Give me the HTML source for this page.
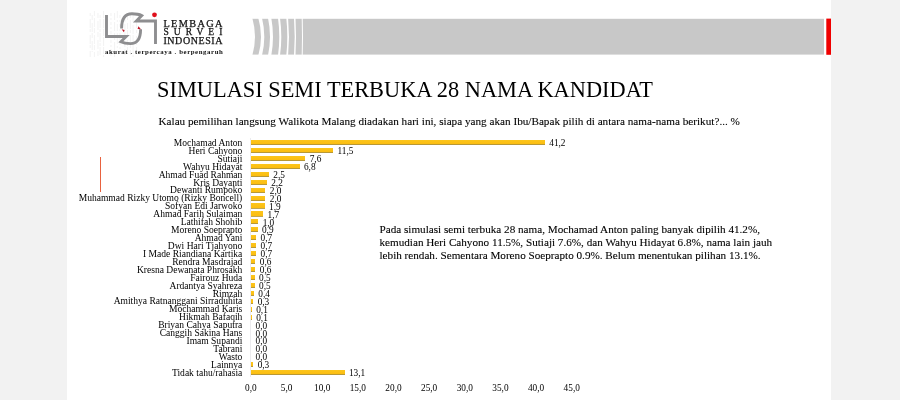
<!DOCTYPE html>
<html><head><meta charset="utf-8"><title>Simulasi Semi Terbuka 28 Nama Kandidat</title>
<style>
html,body{margin:0;padding:0}
body{width:900px;height:400px;overflow:hidden;background:#f2f2f2;font-family:"Liberation Serif",serif;color:#000;position:relative}
#page{position:absolute;left:67px;top:0;width:764px;height:400px;background:#fff}
.abs{position:absolute}
#title{position:absolute;left:157.1px;top:76.5px;font-size:22.37px;line-height:26px;white-space:nowrap}
#sub{-webkit-text-stroke:0.1px #000;position:absolute;left:158.5px;top:114.6px;font-size:11.19px;line-height:13px;white-space:nowrap}
#para{-webkit-text-stroke:0.1px #000;position:absolute;left:379.5px;top:223.2px;font-size:11.16px;line-height:13.05px;white-space:nowrap}
.nm{position:absolute;right:657.7px;font-size:9.54px;line-height:0;white-space:nowrap;height:0}
.vl{position:absolute;font-size:9.3px;line-height:0;white-space:nowrap;height:0}
.ax{position:absolute;top:388.0px;width:40px;text-align:center;font-size:9.3px;line-height:0;height:0;white-space:nowrap}
.bar{position:absolute;left:251.2px;height:5.1px;background:linear-gradient(to bottom,#fcc51c 0%,#fbbd10 82%,#b89836 90%,#eee9dc 100%)}
#axisline{position:absolute;left:250.2px;top:138px;width:1px;height:239px;background:#ebebee}
#redline{position:absolute;left:99.9px;top:157px;width:1.3px;height:34.5px;background:#e8623f}
</style></head><body>
<div id="page"></div>
<svg class="abs" style="left:0;top:0" width="900" height="70" viewBox="0 0 900 70">
<rect x="252" y="18.8" width="572" height="35.8" fill="#c8c8c8"/>
<path d="M251 18 L252.3 18 Q257.7 36.7 252.3 55.6 L251 55.6 Z" fill="#fff"/>
<path d="M258.3 18 Q263.7 36.7 258.3 55.6 L262 55.6 Q266.6 36.7 262 18 Z" fill="#fff"/>
<path d="M268 18 Q272 36.7 268 55.6 L271.3 55.6 Q274.7 36.7 271.3 18 Z" fill="#fff"/>
<path d="M278 18 Q280.6 36.7 278 55.6 L280 55.6 Q282.6 36.7 280 18 Z" fill="#fff"/>
<path d="M286.3 18 Q288.3 36.7 286.3 55.6 L288.1 55.6 Q289.9 36.7 288.1 18 Z" fill="#fff"/>
<path d="M294 18 Q295.4 36.7 294 55.6 L295.5 55.6 Q296.5 36.7 295.5 18 Z" fill="#fff"/>
<path d="M301.7 18 Q302.3 36.7 301.7 55.6 L302.7 55.6 Q303.3 36.7 302.7 18 Z" fill="#fff"/>
<rect x="826.3" y="18.6" width="4.7" height="36.2" fill="#f00000"/>
<!-- logo -->
<g stroke="#e9e9e9" stroke-width="0.6" fill="none">
<path d="M90.2 13 L90.2 57" stroke-dasharray="3 3 9 1"/>
<path d="M92.2 15 L92.2 52" stroke-dasharray="5 3 9 1"/>
<path d="M94.4 11 L94.4 57" stroke-dasharray="5 2 9 1"/>
<path d="M98 13 L98 57" stroke-dasharray="5 3 9 2"/>
<path d="M100.1 15 L100.1 55" stroke-dasharray="3 1 9 1"/>
<path d="M103.6 11 L103.6 57" stroke-dasharray="7 1 9 1"/>
<path d="M111 13 L111 57" stroke-dasharray="3 2 2 2"/>
<path d="M114.6 13 L114.6 57" stroke-dasharray="7 2 9 2"/>
<path d="M117.3 11 L117.3 52" stroke-dasharray="7 2 2 2"/>
<path d="M120 15 L120 55" stroke-dasharray="3 2 2 2"/>
<path d="M124.9 15 L124.9 55" stroke-dasharray="7 2 6 2"/>
<path d="M127.5 13 L127.5 57" stroke-dasharray="7 3 6 1"/>
<path d="M130.4 15 L130.4 55" stroke-dasharray="3 2 9 1"/>
<path d="M133.1 15 L133.1 57" stroke-dasharray="7 3 9 1"/>
<path d="M136.6 13 L136.6 52" stroke-dasharray="3 3 9 2"/>
</g>
<g fill="none" stroke="#8e8e90" stroke-width="2.9" stroke-linejoin="miter" stroke-miterlimit="10">
<path d="M106.5 15 L106.5 36.5 L126.2 36.5 L120.8 41.8 C123.1 43 126.4 43.6 130.4 43.6 C136.4 43.6 140.6 39.4 140.6 29.2"/>
<path d="M121.6 28.4 C121.6 18 126 13.8 132 13.8 C136 13.8 139.4 14.4 141.7 15.6 L136.4 21 L155.5 21 L155.5 44"/>
</g>
<circle cx="154.5" cy="14.8" r="2.4" fill="#e0101c"/>
<path d="M121.6 29.2 L124.6 30 L123.9 32.2 Z" fill="#c01828"/>
<path d="M137.6 28.9 L138.4 26.2 L141 29.3 Z" fill="#c01828"/>
<g font-family="'Liberation Serif',serif" fill="#111" stroke="#111" stroke-width="0.25">
<text x="163.4" y="26.6" font-size="10.3" textLength="59" lengthAdjust="spacing">LEMBAGA</text>
<text x="163.4" y="35.3" font-size="9.5" textLength="59" lengthAdjust="spacing">SURVEI</text>
<text x="163.4" y="44.4" font-size="10" textLength="59" lengthAdjust="spacing">INDONESIA</text>
<text x="104.9" y="53.7" font-size="6.8" font-weight="bold" textLength="118" lengthAdjust="spacing" stroke="none">akurat . terpercaya . berpengaruh</text>
</g>

</svg>
<div id="title">SIMULASI SEMI TERBUKA 28 NAMA KANDIDAT</div>
<div id="sub">Kalau pemilihan langsung Walikota Malang diadakan hari ini, siapa yang akan Ibu/Bapak pilih di antara nama-nama berikut?... %</div>
<div id="redline"></div>
<div id="axisline"></div>
<div class="nm" style="top:142.85px">Mochamad Anton</div>
<div class="bar" style="top:140.05px;width:293.76px"></div>
<div class="vl" style="top:143.20px;left:549.26px">41,2</div>
<div class="nm" style="top:150.78px">Heri Cahyono</div>
<div class="bar" style="top:147.98px;width:82.00px"></div>
<div class="vl" style="top:151.13px;left:337.50px">11,5</div>
<div class="nm" style="top:158.71px">Sutiaji</div>
<div class="bar" style="top:155.91px;width:54.19px"></div>
<div class="vl" style="top:159.06px;left:309.69px">7,6</div>
<div class="nm" style="top:166.64px">Wahyu Hidayat</div>
<div class="bar" style="top:163.84px;width:48.48px"></div>
<div class="vl" style="top:166.99px;left:303.98px">6,8</div>
<div class="nm" style="top:174.57px">Ahmad Fuad Rahman</div>
<div class="bar" style="top:171.77px;width:17.82px"></div>
<div class="vl" style="top:174.92px;left:273.32px">2,5</div>
<div class="nm" style="top:182.50px">Kris Dayanti</div>
<div class="bar" style="top:179.70px;width:15.69px"></div>
<div class="vl" style="top:182.85px;left:271.19px">2,2</div>
<div class="nm" style="top:190.43px">Dewanti Rumpoko</div>
<div class="bar" style="top:187.63px;width:14.26px"></div>
<div class="vl" style="top:190.78px;left:269.76px">2,0</div>
<div class="nm" style="top:198.36px">Muhammad Rizky Utomo (Rizky Boncell)</div>
<div class="bar" style="top:195.56px;width:14.26px"></div>
<div class="vl" style="top:198.71px;left:269.76px">2,0</div>
<div class="nm" style="top:206.29px">Sofyan Edi Jarwoko</div>
<div class="bar" style="top:203.49px;width:13.55px"></div>
<div class="vl" style="top:206.64px;left:269.05px">1,9</div>
<div class="nm" style="top:214.22px">Ahmad Farih Sulaiman</div>
<div class="bar" style="top:211.42px;width:12.12px"></div>
<div class="vl" style="top:214.57px;left:267.62px">1,7</div>
<div class="nm" style="top:222.15px">Lathifah Shohib</div>
<div class="bar" style="top:219.35px;width:7.13px"></div>
<div class="vl" style="top:222.50px;left:262.63px">1,0</div>
<div class="nm" style="top:230.08px">Moreno Soeprapto</div>
<div class="bar" style="top:227.28px;width:6.42px"></div>
<div class="vl" style="top:230.43px;left:261.92px">0,9</div>
<div class="nm" style="top:238.01px">Ahmad Yani</div>
<div class="bar" style="top:235.21px;width:4.99px"></div>
<div class="vl" style="top:238.36px;left:260.49px">0,7</div>
<div class="nm" style="top:245.94px">Dwi Hari Tjahyono</div>
<div class="bar" style="top:243.14px;width:4.99px"></div>
<div class="vl" style="top:246.29px;left:260.49px">0,7</div>
<div class="nm" style="top:253.87px">I Made Riandiana Kartika</div>
<div class="bar" style="top:251.07px;width:4.99px"></div>
<div class="vl" style="top:254.22px;left:260.49px">0,7</div>
<div class="nm" style="top:261.80px">Rendra Masdrajad</div>
<div class="bar" style="top:259.00px;width:4.28px"></div>
<div class="vl" style="top:262.15px;left:259.78px">0,6</div>
<div class="nm" style="top:269.73px">Kresna Dewanata Phrosakh</div>
<div class="bar" style="top:266.93px;width:4.28px"></div>
<div class="vl" style="top:270.08px;left:259.78px">0,6</div>
<div class="nm" style="top:277.66px">Fairouz Huda</div>
<div class="bar" style="top:274.86px;width:3.56px"></div>
<div class="vl" style="top:278.01px;left:259.06px">0,5</div>
<div class="nm" style="top:285.59px">Ardantya Syahreza</div>
<div class="bar" style="top:282.79px;width:3.56px"></div>
<div class="vl" style="top:285.94px;left:259.06px">0,5</div>
<div class="nm" style="top:293.52px">Rimzah</div>
<div class="bar" style="top:290.72px;width:2.85px"></div>
<div class="vl" style="top:293.87px;left:258.35px">0,4</div>
<div class="nm" style="top:301.45px">Amithya Ratnanggani Sirraduhita</div>
<div class="bar" style="top:298.65px;width:2.14px"></div>
<div class="vl" style="top:301.80px;left:257.64px">0,3</div>
<div class="nm" style="top:309.38px">Mochammad Karis</div>
<div class="bar" style="top:306.58px;width:0.71px"></div>
<div class="vl" style="top:309.73px;left:256.21px">0,1</div>
<div class="nm" style="top:317.31px">Hikmah Bafaqih</div>
<div class="bar" style="top:314.51px;width:0.71px"></div>
<div class="vl" style="top:317.66px;left:256.21px">0,1</div>
<div class="nm" style="top:325.24px">Briyan Cahya Saputra</div>
<div class="vl" style="top:325.59px;left:255.50px">0,0</div>
<div class="nm" style="top:333.17px">Canggih Sakina Hans</div>
<div class="vl" style="top:333.52px;left:255.50px">0,0</div>
<div class="nm" style="top:341.10px">Imam Supandi</div>
<div class="vl" style="top:341.45px;left:255.50px">0,0</div>
<div class="nm" style="top:349.03px">Tabrani</div>
<div class="vl" style="top:349.38px;left:255.50px">0,0</div>
<div class="nm" style="top:356.96px">Wasto</div>
<div class="vl" style="top:357.31px;left:255.50px">0,0</div>
<div class="nm" style="top:364.89px">Lainnya</div>
<div class="bar" style="top:362.09px;width:2.14px"></div>
<div class="vl" style="top:365.24px;left:257.64px">0,3</div>
<div class="nm" style="top:372.82px">Tidak tahu/rahasia</div>
<div class="bar" style="top:370.02px;width:93.40px"></div>
<div class="vl" style="top:373.17px;left:348.90px">13,1</div>
<div class="ax" style="left:230.90px">0,0</div>
<div class="ax" style="left:266.55px">5,0</div>
<div class="ax" style="left:302.20px">10,0</div>
<div class="ax" style="left:337.85px">15,0</div>
<div class="ax" style="left:373.50px">20,0</div>
<div class="ax" style="left:409.15px">25,0</div>
<div class="ax" style="left:444.80px">30,0</div>
<div class="ax" style="left:480.45px">35,0</div>
<div class="ax" style="left:516.10px">40,0</div>
<div class="ax" style="left:551.75px">45,0</div>
<div id="para">Pada simulasi semi terbuka 28 nama, Mochamad Anton paling banyak dipilih 41.2%,<br>kemudian Heri Cahyono 11.5%, Sutiaji 7.6%, dan Wahyu Hidayat 6.8%, nama lain jauh<br>lebih rendah. Sementara Moreno Soeprapto 0.9%. Belum menentukan pilihan 13.1%.</div>
</body></html>
